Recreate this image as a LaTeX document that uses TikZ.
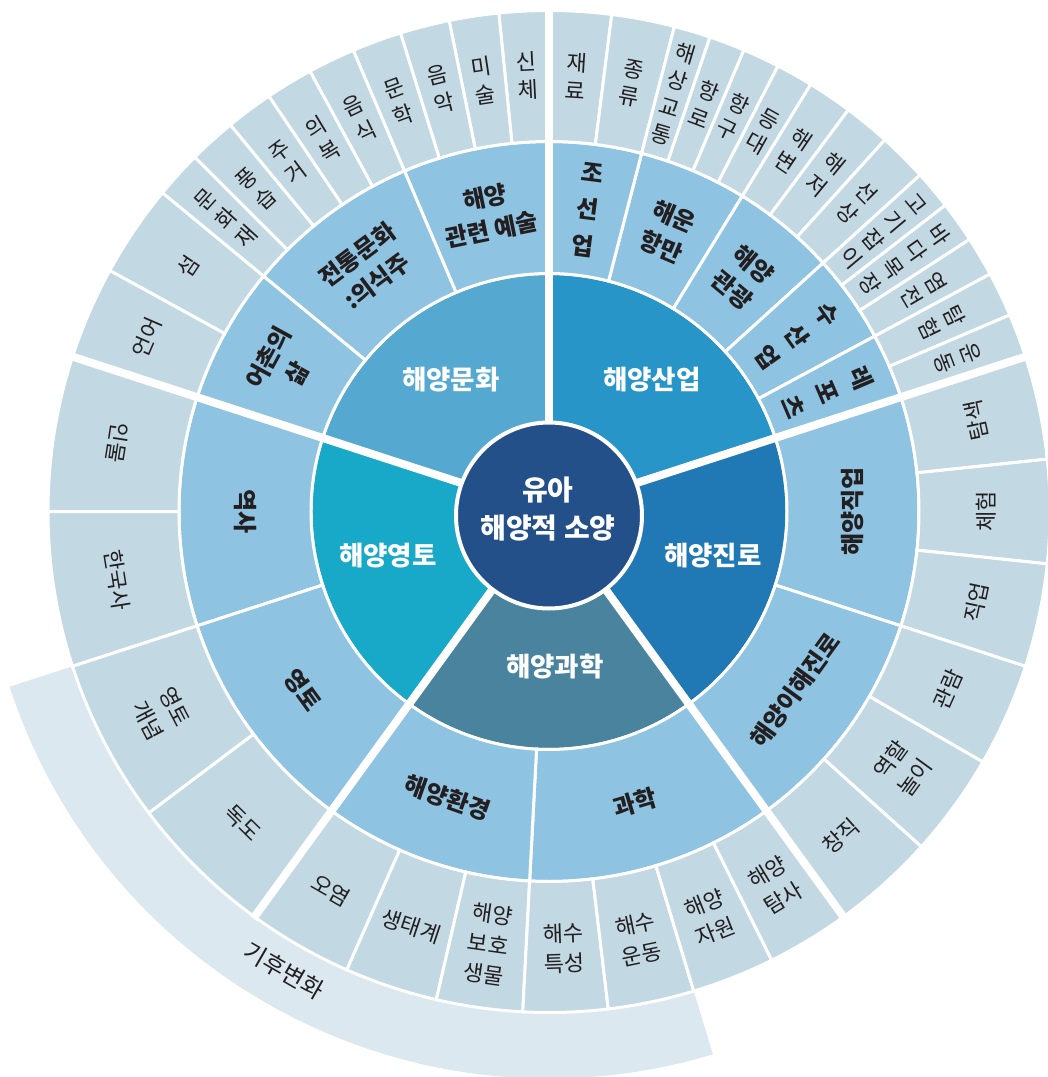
\documentclass[tikz,border=0pt]{standalone}
\usepackage{fontspec}
\setmainfont{Noto Sans CJK KR}
\usepackage{tikz}

\definecolor{corecol}{HTML}{24508A}
\definecolor{culcol}{HTML}{55A8D0}
\definecolor{indcol}{HTML}{2795C8}
\definecolor{carcol}{HTML}{2079B4}
\definecolor{scicol}{HTML}{4A839E}
\definecolor{tercol}{HTML}{18A8C8}
\definecolor{midcol}{HTML}{8EC3E2}
\definecolor{outcol}{HTML}{C2D8E3}
\definecolor{bandcol}{HTML}{DBE8EF}
\definecolor{inkcol}{HTML}{231F20}

\tikzset{
  cell/.style={fill=#1, draw=white, line width=3pt},
  gap/.style={draw=white, line width=8pt},
  coretxt/.style={text=white, align=center, inner sep=1pt, font=\bfseries\fontsize{26.5}{30}\selectfont},
  midtxt/.style={text=inkcol, align=center, inner sep=1pt, font=\bfseries\fontsize{24}{33}\selectfont},
  midstack/.style={text=inkcol, align=center, inner sep=1pt, font=\bfseries\fontsize{24}{37}\selectfont},
  outtxt/.style={text=inkcol, align=center, inner sep=1pt, font=\fontsize{22}{30}\selectfont},
  outstack/.style={text=inkcol, align=center, inner sep=1pt, font=\fontsize{22}{28}\selectfont},
}

% annular cell: inner r, outer r, start, end, colour
\newcommand{\ringcell}[5]{\path[cell=#5] (#3:#1pt) arc[start angle=#3, end angle=#4, radius=#1pt] -- (#4:#2pt) arc[start angle=#4, end angle=#3, radius=#2pt] -- cycle;}

\begin{document}
\begin{tikzpicture}
\useasboundingbox (-549pt,-565.5pt) rectangle (499pt,511.5pt);

% climate band
\path[fill=bandcol] (198:501pt) arc[start angle=198, end angle=286.8, radius=501pt] -- (286.8:567pt) arc[start angle=286.8, end angle=198, radius=567pt] -- cycle;
\node[outtxt, font=\fontsize{24}{28}\selectfont, rotate=-30] (climate) at (240:530pt) {기후변화};

% main sectors
\ringcell{60}{238}{90}{162}{culcol}
\ringcell{60}{238}{18}{90}{indcol}
\ringcell{60}{238}{-54}{18}{carcol}
\ringcell{60}{238}{234}{306}{scicol}
\ringcell{60}{238}{162}{234}{tercol}

% middle ring
\foreach \a/\b/\n/\t in {90/113/artm/{해양\\관련 예술}, 113/140.5/tradm/{전통문화\\:의식주},
  140.5/162/villm/{어촌의\\삶}, 58.5/75.5/portm/{해운\\항만}, 42.2/58.5/tourm/{해양\\관광}}{
  \pgfmathsetmacro\m{(\a+\b)/2}
  \ringcell{238}{370}{\a}{\b}{midcol}
  \node[midtxt, rotate=\m-90] (\n) at (\m:304pt) {\t};
}
\foreach \a/\b/\n/\t in {75.5/90/shipm/{조\\선\\업}, 28.3/42.2/fishm/{수\\산\\업}, 18/28.3/leism/{레\\포\\츠}}{
  \pgfmathsetmacro\m{(\a+\b)/2}
  \ringcell{238}{370}{\a}{\b}{midcol}
  \node[midstack, rotate=\m-90] (\n) at (\m:304pt) {\t};
}
\foreach \a/\b/\n/\t in {-18/18/jobm/{해양직업}, -54/-18/pathm/{해양이해진로}, 267/306/scim/{과학},
  234/267/envm/{해양환경}, 162/198/histm/{역사}, 198/234/landm/{영토}}{
  \pgfmathsetmacro\m{(\a+\b)/2}
  \ringcell{238}{370}{\a}{\b}{midcol}
  \node[midtxt, rotate=\m+90] (\n) at (\m:304pt) {\t};
}

% outer ring
\foreach \a/\b/\n/\t in {90/95.75/body/{신\\체}, 95.75/101.5/art/{미\\술}, 101.5/107.25/music/{음\\악},
  107.25/113/lit/{문\\학}, 113/118.5/food/{음\\식}, 118.5/124/cloth/{의\\복}, 124/129.5/house/{주\\거},
  129.5/135/custom/{풍\\습}, 135/140.5/heritage/{문\\화\\재}, 140.5/151.25/island/{섬},
  82.8/90/material/{재\\료}, 75.5/82.8/shiptype/{종\\류}, 71.25/75.5/traffic/{해\\상\\교\\통},
  67.1/71.25/route/{항\\로}, 62.8/67.1/harbor/{항\\구}, 58.5/62.8/lighthouse/{등\\대},
  53.3/58.5/beach/{해\\변}, 47.9/53.3/seabed/{해\\저}, 42.2/47.9/onboard/{선\\상},
  37.7/42.2/fishing/{고\\기\\잡\\이}, 32.9/37.7/ranch/{바\\다\\목\\장}, 28.3/32.9/salt/{염\\전},
  23.1/28.3/explore/{탐\\험}, 18/23.1/sport/{운\\동}}{
  \pgfmathsetmacro\m{(\a+\b)/2}
  \ringcell{370}{501}{\a}{\b}{outcol}
  \node[outstack, rotate=\m-90] (\n) at (\m:436pt) {\t};
}
\ringcell{370}{501}{151.25}{162}{outcol}
\node[outtxt, rotate=66.6] (lang) at (156.6:438pt) {언어};
\foreach \a/\b/\n/\t in {6/18/seek/{탐색}, -6/6/try/{체험}, -18/-6/work/{직업}, -30/-18/watch/{관람},
  -42/-30/role/{역할\\놀이}, -54/-42/create/{창직},
  234/246.2/pollute/{오염}, 246.2/257/eco/{생태계}, 257/267/protect/{해양\\보호\\생물},
  267/276.8/water/{해수\\특성}, 276.8/286.8/current/{해수\\운동}, 286.8/296.4/resource/{해양\\자원},
  296.4/306/probe/{해양\\탐사},
  162/180/person/{인물}, 180/198/korea/{한국사}, 198/217/concept/{영토\\개념}, 217/234/dokdo/{독도}}{
  \pgfmathsetmacro\m{(\a+\b)/2}
  \ringcell{370}{501}{\a}{\b}{outcol}
  \node[outtxt, rotate=\m+90] (\n) at (\m:437pt) {\t};
}

% wide gaps between the five areas
\foreach \a in {18,90,162,234,306}
  \draw[gap] (\a:90pt) -- (\a:503pt);

% core
\path[fill=corecol, draw=white, line width=4pt] (0pt,-4pt) circle[radius=93pt];
\node[coretxt, font=\bfseries\fontsize{28}{38}\selectfont] (core) at (-1pt,2.5pt) {유아\\해양적 소양};

\node[coretxt] (culture) at (-98pt,132pt) {해양문화};
\node[coretxt] (industry) at (103pt,132pt) {해양산업};
\node[coretxt] (career) at (164pt,-44pt) {해양진로};
\node[coretxt] (science) at (6pt,-155pt) {해양과학};
\node[coretxt] (territory) at (-161pt,-44pt) {해양영토};
\end{tikzpicture}
\end{document}
